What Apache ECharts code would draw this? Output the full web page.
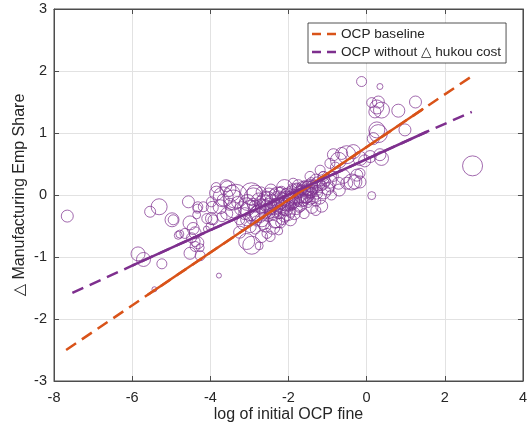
<!DOCTYPE html>
<html>
<head>
<meta charset="utf-8">
<script src="https://cdn.jsdelivr.net/npm/echarts@6/dist/echarts.min.js"></script>
<style>html,body{margin:0;padding:0;background:#fff;}#c{width:530px;height:432px;}</style>
</head>
<body>
<div id="c"></div>
<script>
// ---- data ----
const xTickLabels = ['-8','-6','-4','-2','0','2','4'];
const yTickLabels = ['-3','-2','-1','0','1','2','3'];
const seriesNames = ['OCP baseline', 'OCP without \u25B3 hukou cost'];

// bubble points: x = log initial OCP fine, y = change in manufacturing share, w = weight
const pointX = [
 -7.66,-5.85,-5.71,-5.24,-5.43,-3.78,-5.54,-5.31,-4.98,-4.56,-4.33,-4.78,-4.52,-4.44,-4.39,-4.48,-4.32,-4.39,-4.26,-4.52,
 -4.26,-4.09,-3.97,-4.01,-4.18,-3.97,-3.67,-3.41,-3.75,-3.58,-3.41,-3.07,-2.90,-3.07,-2.98,-3.07,-2.75,-2.47,-2.64,-2.22,
 -1.88,-3.84,-3.45,-4.95,-4.65,-4.82,-2.86,-2.69,-2.94,-3.93,-4.35,-4.10,-4.32,-3.67,-4.39,
 -0.13,0.34,0.13,0.30,0.26,0.38,0.21,0.81,1.25,0.98,0.26,0.30,0.17,0.34,0.38,2.71,0.13,
 -0.38,-0.17,-0.25,-0.60,-0.51,-0.72,-0.85,-0.94,-1.11,-1.36,-1.28,-0.72,-0.51,-0.64,-0.17,-0.05,0.09,-0.17,
 -0.94,-1.11,-1.62,-1.79,-1.53,-0.85,-0.34,-0.80,-1.19,-1.50,-1.45,-0.30,
 -3.20,-3.12,-3.05,-2.98,-2.92,-2.85,-2.80,-2.76,-2.72,-2.68,-2.64,-2.60,-2.56,-2.52,-2.50,-2.46,-2.42,-2.40,-2.36,-2.34,
 -2.30,-2.28,-2.25,-2.22,-2.20,-2.18,-2.15,-2.12,-2.10,-2.08,-2.05,-2.02,-2.00,-1.98,-1.95,-1.92,-1.90,-1.87,-1.84,-1.80,
 -1.78,-1.75,-1.72,-1.70,-1.66,-1.62,-1.58,-1.55,-1.50,-1.46,-1.42,-1.38,-1.34,-1.30,-1.25,-1.20,-1.15,-1.10,-1.05,-1.00,
 -2.60,-2.40,-2.20,-1.95,-2.85,-2.10,-2.45,-2.70,-3.30,-3.25,-1.60,-1.40,-1.15,-1.30,-3.85,-3.60,
 -3.35,-2.95,-2.55,-2.05,-1.65,-2.75,-3.15,-2.35,-1.85,-2.50,-2.15,-1.75,-1.45,-1.25,-1.10,-0.95,-2.90,-2.62,-2.38,-2.02,
 -1.92,-1.68,-1.52,-2.28,-2.82,-3.50,-3.70,-3.95,-3.25,-2.55,-2.25,-1.30,-0.90,-0.70,-3.55,
 -2.32,-2.18,-2.05,-1.95,-1.85,-1.75,-1.70,-1.60,-1.55,-1.48,-1.40,-1.35,-2.12,-2.42,-2.58,-2.70,-1.98,-1.82,-1.62,-2.26,
 -1.90,-2.48,-1.72,-2.08,-1.44
];
const pointY = [
 -0.34,-0.95,-1.04,-1.11,-1.52,-1.30,-0.27,-0.19,-0.40,-0.11,-0.22,-0.63,-0.45,-0.54,-0.61,-0.69,-0.77,-0.83,-0.85,-0.94,
 -0.98,-0.38,-0.38,-0.51,-0.19,-0.11,-0.03,-0.08,-0.19,-0.30,-0.24,-0.19,-0.03,-0.40,-0.51,-0.75,-0.82,-0.67,-0.46,0.03,
 0.19,0.03,0.03,-0.40,-0.62,-0.65,0.03,-0.67,-0.81,-0.40,-0.32,-0.55,-0.19,-0.08,-0.75,
 1.83,1.75,1.49,1.50,1.42,1.37,1.34,1.36,1.50,1.05,1.05,0.99,0.91,0.65,0.59,0.47,-0.01,
 0.21,0.21,0.32,0.30,0.19,0.19,0.30,0.13,0.19,0.13,0.03,0.56,0.65,0.67,0.59,0.55,0.62,0.35,
 0.51,0.30,0.11,0.08,-0.03,0.65,0.70,0.45,0.40,0.11,0.30,0.21,
 -0.22,-0.30,-0.12,-0.25,-0.36,-0.18,-0.30,-0.08,-0.22,-0.40,-0.14,-0.28,-0.05,-0.35,-0.18,-0.24,-0.10,-0.30,0.02,-0.16,
 -0.40,-0.22,-0.08,-0.30,-0.14,0.06,-0.20,-0.05,-0.34,-0.12,-0.24,0.00,-0.15,-0.08,-0.28,0.05,-0.18,-0.02,-0.12,-0.22,
 0.10,-0.05,0.02,-0.15,0.08,-0.08,0.15,0.00,-0.12,0.06,0.20,-0.04,0.10,0.24,0.08,-0.05,0.15,0.05,0.22,0.10,
 -0.50,-0.52,-0.45,-0.40,-0.55,0.12,0.08,0.05,-0.12,-0.40,-0.30,-0.20,-0.18,-0.25,0.12,0.15,
 -0.02,0.02,-0.10,-0.10,0.02,-0.30,-0.45,-0.42,-0.30,0.00,-0.38,0.15,0.12,0.18,0.28,0.22,-0.15,-0.20,-0.22,-0.30,
 -0.10,-0.08,0.08,0.00,-0.42,-0.15,-0.35,-0.20,-0.60,-0.62,-0.58,-0.10,0.00,0.08,0.10,
 -0.12,-0.02,-0.18,-0.02,0.02,-0.12,0.06,0.04,-0.06,0.00,0.04,0.16,-0.25,-0.20,-0.16,-0.12,-0.20,-0.06,0.12,-0.32,
 0.10,-0.30,-0.20,0.04,-0.08
];
const pointW = [
 6,7,7,5,2.5,2.5,5.5,8,7,6,4.5,4,7,6,6,5,6,5,4,6,
 5,5,6,4,5,5,10,10,7,6,8,9,9,6,6,8,4,5,6,6,
 5,7,8,5,5,4,8,6,9,5,4,3,5,6,5,
 5,3,5,6,7,8,6,6.5,6,6,8,9,6,6,7,10,4,
 8,6,6,7,6,6,5,5,6,7,6,8,9,6,7,6,6,5,
 5,5,7,7,6,6,7,5,5,7,5,7,
 7,6,8,10,7,6,8,7,5,7,9,6,6,5,8,5,7,6,5,6,
 8,5,9,5,6,5,7,5,6,4,6,7,5,6,5,6,4,7,5,6,
 5,6,4,7,5,6,5,8,5,6,5,6,4,6,5,6,5,7,5,6,
 6,7,5,6,5,8,6,5,6,5,5,6,6,5,5,6,
 12,11,10,10,9,9,7,7,6,7,6,6,8,7,6,7,6,8,9,7,
 8,7,6,8,5,6,5,6,6,5,4,5,5,6,8,
 4,4,4,5,4,4,5,4,5,4,5,4,5,4,5,4,4,6,5,4,
 5,5,5,4,5
];

// fitted lines: dashed outside the data support, solid inside
const baselineX = [-7.69, -5.60, 1.45, 2.75];
const baselineY = [-2.50, -1.61, 1.39, 1.94];
const noHukouX  = [-7.53, -6.00, 1.54, 2.69];
const noHukouY  = [-1.58, -1.14, 1.02, 1.34];

// ---- build ----
const pts = pointX.map((x, i) => [x, pointY[i], pointW[i]]);
const pair = (xs, ys, a, b) => xs.slice(a, b + 1).map((x, i) => [x, ys[a + i]]);

const FONT = "'Liberation Sans', Arial, 'DejaVu Sans', sans-serif";
const AX = '#4d4d4d', TXT = '#262626', GRID = '#e2e2e2';
const ORANGE = '#D95319', PURPLE = '#7E2F8E';
const DASH_ICON = 'path://M0,0H9V2.5H0Z M15,0H24V2.5H15Z';

const chart = echarts.init(document.getElementById('c'), null, {renderer: 'canvas'});
const baseAxis = {
  type: 'value', min: -8, max: 4, interval: 2,
  axisLine: {show: true, onZero: false, lineStyle: {color: AX, width: 1}},
  axisTick: {show: true, inside: true, length: 5, lineStyle: {color: AX}},
};
const option = {
  animation: false,
  backgroundColor: '#fff',
  grid: {left: 54, right: 7, top: 9, bottom: 51, show: true, borderColor: AX, borderWidth: 1, backgroundColor: 'transparent'},
  legend: {
    data: seriesNames.map((n) => ({name: n, icon: DASH_ICON})),
    orient: 'vertical', left: 308, top: 23,
    padding: [4, 5, 4, 4], itemGap: 4, itemWidth: 24, itemHeight: 2.5,
    backgroundColor: '#fff', borderColor: TXT, borderWidth: 0.8, borderRadius: 0,
    textStyle: {color: TXT, fontSize: 13.6, fontFamily: FONT},
    selectedMode: false
  },
  xAxis: [
    Object.assign({}, baseAxis, {
      position: 'bottom',
      axisLabel: {color: TXT, fontSize: 14.5, fontFamily: FONT, margin: 9, formatter: (v) => xTickLabels[Math.round((v + 8) / 2)]},
      splitLine: {show: true, lineStyle: {color: GRID, width: 1}},
      name: 'log of initial OCP fine', nameLocation: 'middle', nameGap: 26, nameMoveOverlap: false,
      nameTextStyle: {color: TXT, fontSize: 16, fontFamily: FONT}
    }),
    Object.assign({}, baseAxis, {position: 'top', axisLabel: {show: false}, splitLine: {show: false}})
  ],
  yAxis: [
    Object.assign({}, baseAxis, {
      min: -3, max: 3, interval: 1, position: 'left',
      axisLabel: {color: TXT, fontSize: 14.5, fontFamily: FONT, margin: 7, formatter: (v) => yTickLabels[Math.round(v + 3)]},
      splitLine: {show: true, lineStyle: {color: GRID, width: 1}},
      name: '\u25B3 Manufacturing Emp Share', nameLocation: 'middle', nameGap: 26, nameRotate: 90, nameMoveOverlap: false,
      nameTextStyle: {color: TXT, fontSize: 16, fontFamily: FONT}
    }),
    Object.assign({}, baseAxis, {min: -3, max: 3, interval: 1, position: 'right', axisLabel: {show: false}, splitLine: {show: false}})
  ],
  series: [
    {
      type: 'scatter', name: 'cities', data: pts, z: 2,
      symbol: 'circle', symbolSize: (v) => v[2] * 2,
      itemStyle: {color: 'rgba(0,0,0,0)', borderColor: PURPLE, borderWidth: 0.9, opacity: 0.8},
      emphasis: {disabled: true}, silent: true
    },
    {
      type: 'line', name: seriesNames[0], data: pair(baselineX, baselineY, 0, 3), z: 5,
      symbol: 'none', lineStyle: {color: ORANGE, width: 2.5, type: [12, 7]}, itemStyle: {color: ORANGE}, silent: true
    },
    {
      type: 'line', name: 'baseline-fit', data: pair(baselineX, baselineY, 1, 2), z: 6,
      symbol: 'none', lineStyle: {color: ORANGE, width: 2.5, type: 'solid'}, silent: true
    },
    {
      type: 'line', name: seriesNames[1], data: pair(noHukouX, noHukouY, 0, 3), z: 5,
      symbol: 'none', lineStyle: {color: PURPLE, width: 2.5, type: [12, 7]}, itemStyle: {color: PURPLE}, silent: true
    },
    {
      type: 'line', name: 'nohukou-fit', data: pair(noHukouX, noHukouY, 1, 2), z: 6,
      symbol: 'none', lineStyle: {color: PURPLE, width: 2.5, type: 'solid'}, silent: true
    }
  ]
};
chart.setOption(option);
</script>
</body>
</html>
